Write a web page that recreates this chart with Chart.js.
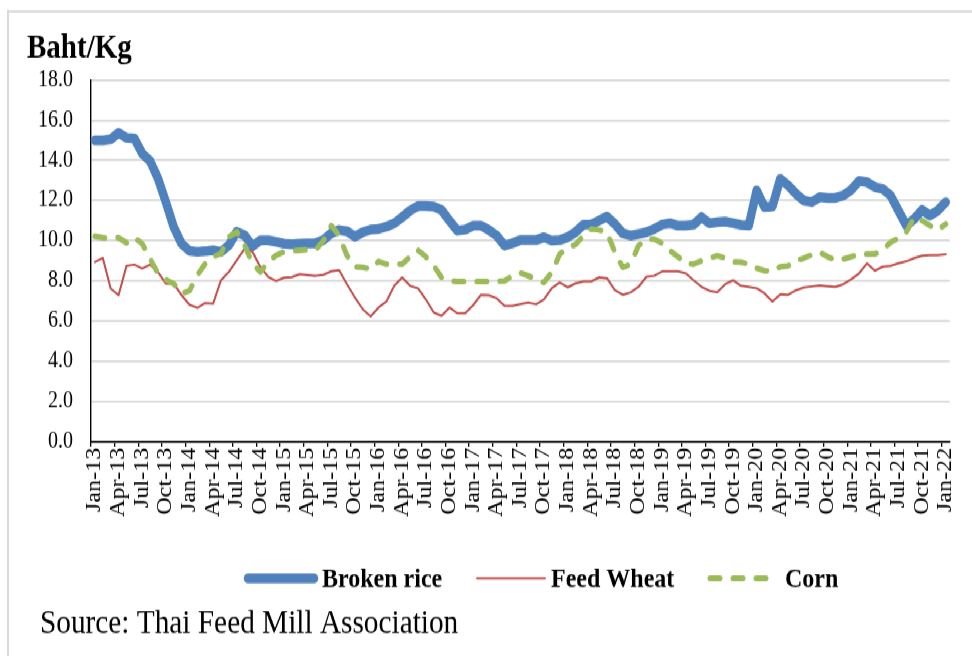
<!DOCTYPE html>
<html><head><meta charset="utf-8">
<script src="https://cdn.jsdelivr.net/npm/chart.js@4.4.1/dist/chart.umd.min.js"></script>
<style>
html,body{margin:0;padding:0;background:#fff;overflow:hidden;width:972px;height:656px;}
#stage{position:absolute;left:0;top:0;width:972px;height:570px;transform:scaleY(1.1509);transform-origin:0 0;}
#frame{position:absolute;left:7px;top:8.7px;width:1000px;height:700px;border-left:2px solid #d9d9d9;border-top:2px solid #d9d9d9;}
#c{position:absolute;left:0;top:0;}
</style></head><body>
<div id="stage"><div id="frame"></div><canvas id="c" width="972" height="570"></canvas></div>
<script>
const months = [
 'Jan-13','Feb-13','Mar-13','Apr-13','May-13','Jun-13','Jul-13','Aug-13','Sep-13','Oct-13','Nov-13','Dec-13',
 'Jan-14','Feb-14','Mar-14','Apr-14','May-14','Jun-14','Jul-14','Aug-14','Sep-14','Oct-14','Nov-14','Dec-14',
 'Jan-15','Feb-15','Mar-15','Apr-15','May-15','Jun-15','Jul-15','Aug-15','Sep-15','Oct-15','Nov-15','Dec-15',
 'Jan-16','Feb-16','Mar-16','Apr-16','May-16','Jun-16','Jul-16','Aug-16','Sep-16','Oct-16','Nov-16','Dec-16',
 'Jan-17','Feb-17','Mar-17','Apr-17','May-17','Jun-17','Jul-17','Aug-17','Sep-17','Oct-17','Nov-17','Dec-17',
 'Jan-18','Feb-18','Mar-18','Apr-18','May-18','Jun-18','Jul-18','Aug-18','Sep-18','Oct-18','Nov-18','Dec-18',
 'Jan-19','Feb-19','Mar-19','Apr-19','May-19','Jun-19','Jul-19','Aug-19','Sep-19','Oct-19','Nov-19','Dec-19',
 'Jan-20','Feb-20','Mar-20','Apr-20','May-20','Jun-20','Jul-20','Aug-20','Sep-20','Oct-20','Nov-20','Dec-20',
 'Jan-21','Feb-21','Mar-21','Apr-21','May-21','Jun-21','Jul-21','Aug-21','Sep-21','Oct-21','Nov-21','Dec-21',
 'Jan-22'
];
const brokenRice = [
 15.0,15.0,15.05,15.37,15.13,15.1,14.34,13.97,13.1,11.93,10.68,9.85,
 9.49,9.44,9.47,9.52,9.44,9.77,10.44,10.27,9.72,10.02,10.02,9.94,
 9.85,9.82,9.85,9.87,9.87,10.03,10.37,10.53,10.47,10.2,10.42,10.55,
 10.58,10.7,10.87,11.17,11.5,11.72,11.72,11.7,11.53,11.0,10.5,10.55,
 10.75,10.75,10.53,10.25,9.75,9.87,10.03,10.03,10.03,10.17,10.0,10.03,
 10.17,10.42,10.8,10.8,11.0,11.2,10.83,10.37,10.25,10.33,10.42,10.58,
 10.8,10.87,10.75,10.75,10.8,11.17,10.87,10.92,10.95,10.87,10.78,10.75,
 12.5,11.67,11.7,13.08,12.75,12.33,12.0,11.92,12.17,12.13,12.13,12.25,
 12.53,12.97,12.92,12.67,12.58,12.25,11.5,10.75,11.08,11.53,11.25,11.5,
 11.92
];
const feedWheat = [
 8.94,9.14,7.61,7.28,8.74,8.81,8.61,8.81,8.44,7.86,7.86,7.28,
 6.81,6.65,6.9,6.86,8.03,8.44,9.02,9.6,9.44,8.69,8.19,7.99,
 8.16,8.19,8.33,8.29,8.25,8.3,8.47,8.53,7.83,7.17,6.58,6.22,
 6.67,6.97,7.75,8.17,7.75,7.63,7.08,6.42,6.25,6.67,6.38,6.38,
 6.78,7.3,7.28,7.13,6.75,6.75,6.84,6.92,6.83,7.08,7.63,7.92,
 7.67,7.87,7.97,7.97,8.17,8.13,7.53,7.3,7.42,7.7,8.2,8.25,
 8.47,8.47,8.47,8.37,8.03,7.7,7.5,7.42,7.83,8.03,7.75,7.7,
 7.63,7.37,6.97,7.33,7.3,7.53,7.67,7.72,7.77,7.73,7.7,7.83,
 8.08,8.37,8.87,8.5,8.7,8.75,8.87,8.97,9.13,9.25,9.28,9.28,
 9.32
];
const corn = [
 10.22,10.15,10.1,10.15,9.89,10.15,9.85,9.1,8.36,8.06,7.86,7.36,
 7.5,8.28,8.86,9.19,9.36,10.19,10.44,9.77,8.86,8.44,8.94,9.27,
 9.44,9.49,9.52,9.55,9.53,10.0,10.75,10.25,9.25,8.7,8.67,8.58,
 8.97,8.83,8.83,8.83,9.2,9.53,9.2,8.75,8.17,8.0,7.97,7.97,
 7.97,7.97,7.97,7.97,8.0,8.25,8.4,8.25,8.08,7.92,8.42,9.33,
 9.63,9.8,10.25,10.58,10.53,10.42,9.42,8.67,8.83,9.75,10.08,10.08,
 9.87,9.5,9.2,8.87,8.83,9.0,9.13,9.25,9.13,8.95,8.93,8.83,
 8.63,8.5,8.47,8.7,8.75,9.0,9.13,9.3,9.42,9.2,9.03,9.08,
 9.2,9.33,9.33,9.33,9.53,9.92,10.13,10.42,11.17,11.0,10.75,10.53,
 10.83
];
const seriesNames = ['Broken rice','Feed Wheat','Corn'];
const yTicks = [0,2,4,6,8,10,12,14,16,18];
const unitLabel = 'Baht/Kg';
const sourceText = 'Source: Thai Feed Mill Association';

const SERIF = '"Liberation Serif","Times New Roman",serif';

const extras = {
  id:'extras',
  afterDraw(chart){
    const ctx = chart.ctx;
    ctx.save();
    ctx.fillStyle = '#000';
    ctx.textBaseline = 'alphabetic';
    ctx.textAlign = 'left';
    ctx.font = 'bold 29px ' + SERIF;
    ctx.fillText(unitLabel, 27, 49.5);
    ctx.font = '29.3px ' + SERIF;
    ctx.fillText(sourceText, 40, 550);
    // legend
    const ly = 502.5;
    const items = [
      {ds:0, x0:248, x1:314, tx:322},
      {ds:1, x0:477, x1:545, tx:551},
      {ds:2, x0:710, x1:773, tx:785}
    ];
    ctx.font = 'bold 24px ' + SERIF;
    ctx.textBaseline = 'middle';
    items.forEach(it => {
      const d = chart.data.datasets[it.ds];
      ctx.save();
      ctx.strokeStyle = d.borderColor;
      ctx.lineWidth = d.borderWidth;
      ctx.lineCap = d.borderCapStyle || 'butt';
      ctx.setLineDash(d.borderDash || []);
      ctx.beginPath();
      ctx.moveTo(it.x0, ly);
      ctx.lineTo(it.x1, ly);
      ctx.stroke();
      ctx.restore();
      ctx.fillText(d.label, it.tx, ly + 1);
    });
    ctx.restore();
  }
};

new Chart(document.getElementById('c'), {
  type:'line',
  data:{
    labels: months,
    datasets:[
      {label:seriesNames[0], data:brokenRice, borderColor:'#4f81bd', backgroundColor:'#4f81bd', borderWidth:8.5,
       borderCapStyle:'round', borderJoinStyle:'round', pointRadius:0, tension:0, order:3},
      {label:seriesNames[1], data:feedWheat, borderColor:'#c0504d', backgroundColor:'#c0504d', borderWidth:2,
       borderCapStyle:'round', borderJoinStyle:'round', pointRadius:0, tension:0, order:2},
      {label:seriesNames[2], data:corn, borderColor:'#9bbb59', backgroundColor:'#9bbb59', borderWidth:5,
       borderDash:[10,13], borderCapStyle:'round', borderJoinStyle:'round', pointRadius:0, tension:0, order:1}
    ]
  },
  options:{
    responsive:false,
    animation:false,
    devicePixelRatio:1,
    layout:{padding:{left:0,right:19,top:69.6,bottom:0}},
    plugins:{legend:{display:false}, tooltip:{enabled:false}, title:{display:false}},
    scales:{
      x:{
        type:'category',
        offset:true,
        grid:{offset:true, drawOnChartArea:false, drawTicks:true, tickLength:4.5, lineWidth:1.3,
              color:(c)=> (c.index % 3 === 0 ? '#000' : 'rgba(0,0,0,0)')},
        border:{display:true, color:'#000', width:1.4},
        ticks:{autoSkip:false, minRotation:90, maxRotation:90, padding:1, color:'#000',
               font:{family:SERIF, size:21},
               callback:function(v, i){ return i % 3 === 0 ? months[i] : ''; }},
        afterFit(s){ s.height = 186.5; }
      },
      y:{
        min:yTicks[0], max:yTicks[yTicks.length-1],
        afterBuildTicks(s){ s.ticks = yTicks.map(v=>({value:v})); },
        grid:{color:'#d9d9d9', lineWidth:1.8, drawTicks:false},
        border:{display:true, color:'#000', width:1.4},
        ticks:{padding:18, color:'#000', font:{family:SERIF, size:20},
               callback:(v)=>Number(v).toFixed(1)},
        afterFit(s){ s.width = 91; }
      }
    }
  },
  plugins:[extras]
});
</script>
</body></html>
